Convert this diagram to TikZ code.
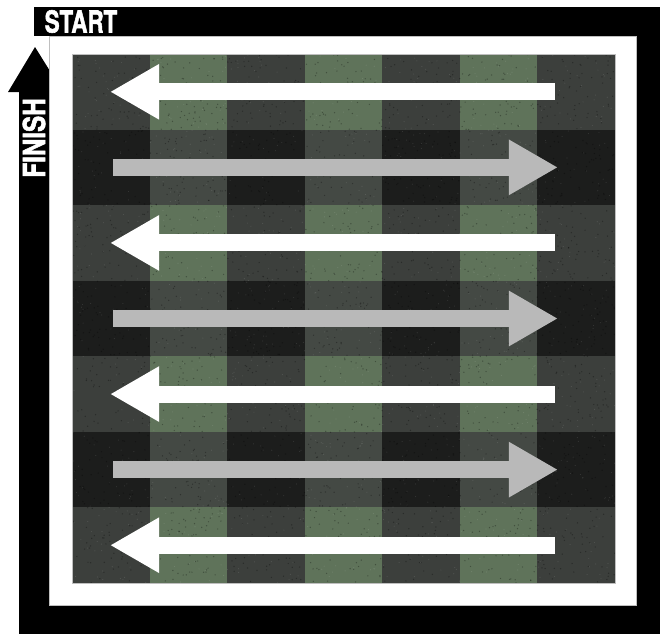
\documentclass[tikz,border=0pt]{standalone}
\usepackage{fontspec}
\newfontfamily\signfont{TeX Gyre Heros}[BoldFeatures={FakeBold=2}]
\usetikzlibrary{arrows.meta}
\definecolor{turfdark}{RGB}{60,63,60}
\definecolor{turfgreen}{RGB}{95,115,90}
\definecolor{stripedark}{RGB}{28,29,28}
\definecolor{stripegreen}{RGB}{68,73,68}
\definecolor{arrowgray}{RGB}{185,185,185}

\begin{document}
\begin{tikzpicture}[x=0.025cm,y=-0.025cm,line cap=butt,
  mowpass/.style={line width=12pt,-{Triangle[length=35pt,width=37pt]}},
  signtext/.style={text=white,inner sep=0pt,font=\signfont\bfseries\fontsize{21.5}{22}\selectfont}]
\useasboundingbox (0,0) rectangle (660,634);
% black border with the finish arrow
\fill[black] (34,7) rectangle (660,36);
\fill[black] (636,7) rectangle (660,634);
\fill[black] (19,605) rectangle (660,634);
\fill[black] (19,92) rectangle (49,634);
\fill[black] (8,92) -- (35,47) -- (63,92) -- cycle;
\fill[white,draw=gray!50,line width=0.4pt] (49,36) rectangle (636,605);
% turf stripes
\foreach \c in {0,...,6}
  \foreach \r in {0,...,6} {
    \ifodd\r
      \ifodd\c \def\cellcol{stripegreen}\else \def\cellcol{stripedark}\fi
    \else
      \ifodd\c \def\cellcol{turfgreen}\else \def\cellcol{turfdark}\fi
    \fi
    \fill[\cellcol] ({72+77.571*\c},{54+75.571*\r}) rectangle ++(77.571,75.571);
  }
% grass speckle
\pgfmathsetseed{4217}
\begin{scope}
\clip (72,54) rectangle (615,583);
\foreach \i in {1,...,3000}
  \fill[black,opacity=0.3] ({72+543*rnd},{54+529*rnd}) circle (0.7);
\foreach \i in {1,...,1500}
  \fill[white,opacity=0.1] ({72+543*rnd},{54+529*rnd}) circle (0.6);
\end{scope}
\draw[gray!50,line width=0.4pt] (72,54) rectangle (615,583);
% mowing passes
\foreach \r in {0,2,4,6}
  \draw[mowpass,white] (555,{54+75.571*(\r+0.5)}) -- (110,{54+75.571*(\r+0.5)});
\foreach \r in {1,3,5}
  \draw[mowpass,arrowgray] (113,{54+75.571*(\r+0.5)}) -- (558,{54+75.571*(\r+0.5)});
\node[signtext] (start) at (81,21.5) {\scalebox{0.74}[1]{START}};
\node[signtext,rotate=90] (finish) at (34,138) {\scalebox{0.8}[1]{FINISH}};
\end{tikzpicture}
\end{document}
